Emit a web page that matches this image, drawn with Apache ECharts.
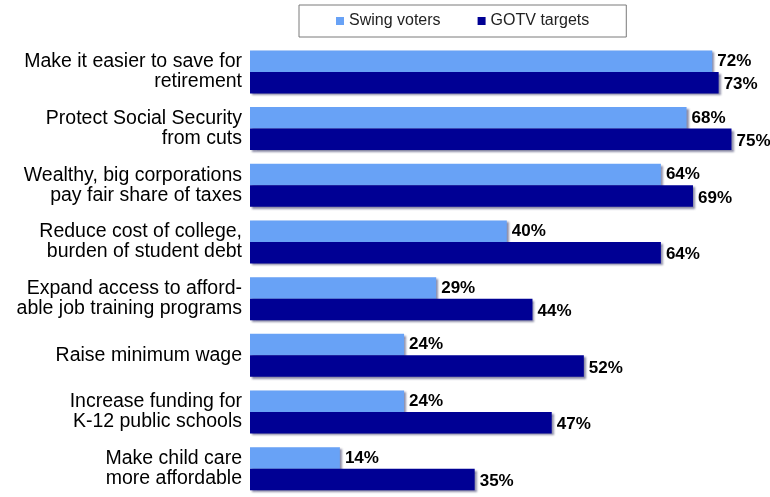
<!DOCTYPE html>
<html>
<head>
<meta charset="utf-8">
<script src="https://cdn.jsdelivr.net/npm/echarts@6/dist/echarts.min.js"></script>
<style>
  html, body { margin: 0; padding: 0; background: #fff; }
  #chart { width: 770px; height: 497px; }
</style>
</head>
<body>
<div id="chart"></div>
<script>
// Priority issues, share rating each as important
const categories = [
  'Make it easier to save for\nretirement',
  'Protect Social Security\nfrom cuts',
  'Wealthy, big corporations\npay fair share of taxes',
  'Reduce cost of college,\nburden of student debt',
  'Expand access to afford-\nable job training programs',
  'Raise minimum wage',
  'Increase funding for\nK-12 public schools',
  'Make child care\nmore affordable'
];
const swingVoters = [72, 68, 64, 40, 29, 24, 24, 14];
const gotvTargets = [73, 75, 69, 64, 44, 52, 47, 35];
const seriesNames = ['Swing voters', 'GOTV targets'];

const FONT = '"Liberation Sans", Arial, sans-serif';

const chart = echarts.init(document.getElementById('chart'), null, { renderer: 'canvas' });

function barSeries(name, data, color, labelOffsetY) {
  return {
    name: name,
    type: 'bar',
    data: data,
    barWidth: 21.5,
    barGap: '0%',
    itemStyle: {
      color: color,
      shadowColor: 'rgba(0, 0, 60, 0.45)',
      shadowBlur: 2,
      shadowOffsetX: 2,
      shadowOffsetY: 2
    },
    label: {
      show: true,
      position: 'right',
      distance: 5,
      offset: [0, labelOffsetY],
      formatter: '{c}%',
      color: '#000',
      fontFamily: FONT,
      fontWeight: 'bold',
      fontSize: 17
    }
  };
}

chart.setOption({
  animation: false,
  backgroundColor: '#fff',
  legend: {
    data: seriesNames,
    left: 299,
    top: 5,
    orient: 'horizontal',
    icon: 'rect',
    itemWidth: 8,
    itemHeight: 8,
    itemGap: 37,
    padding: [8, 37, 8, 37],
    borderColor: '#7a7a7a',
    borderWidth: 1,
    textStyle: { fontFamily: FONT, fontSize: 16, color: '#222' }
  },
  grid: {
    left: 250,
    right: 6.4,
    top: 43.6,
    height: 462.4,
    containLabel: false
  },
  xAxis: {
    type: 'value',
    min: 0,
    max: 80,
    show: false
  },
  yAxis: {
    type: 'category',
    data: categories,
    inverse: true,
    axisLine: { show: false },
    axisTick: { show: false },
    splitLine: { show: false },
    axisLabel: {
      margin: 8,
      color: '#000',
      fontFamily: FONT,
      fontSize: 19.5,
      lineHeight: 20,
      align: 'right'
    }
  },
  series: [
    barSeries(seriesNames[0], swingVoters, '#68a2f6', 0),
    barSeries(seriesNames[1], gotvTargets, '#000094', 2)
  ]
});
</script>
</body>
</html>
